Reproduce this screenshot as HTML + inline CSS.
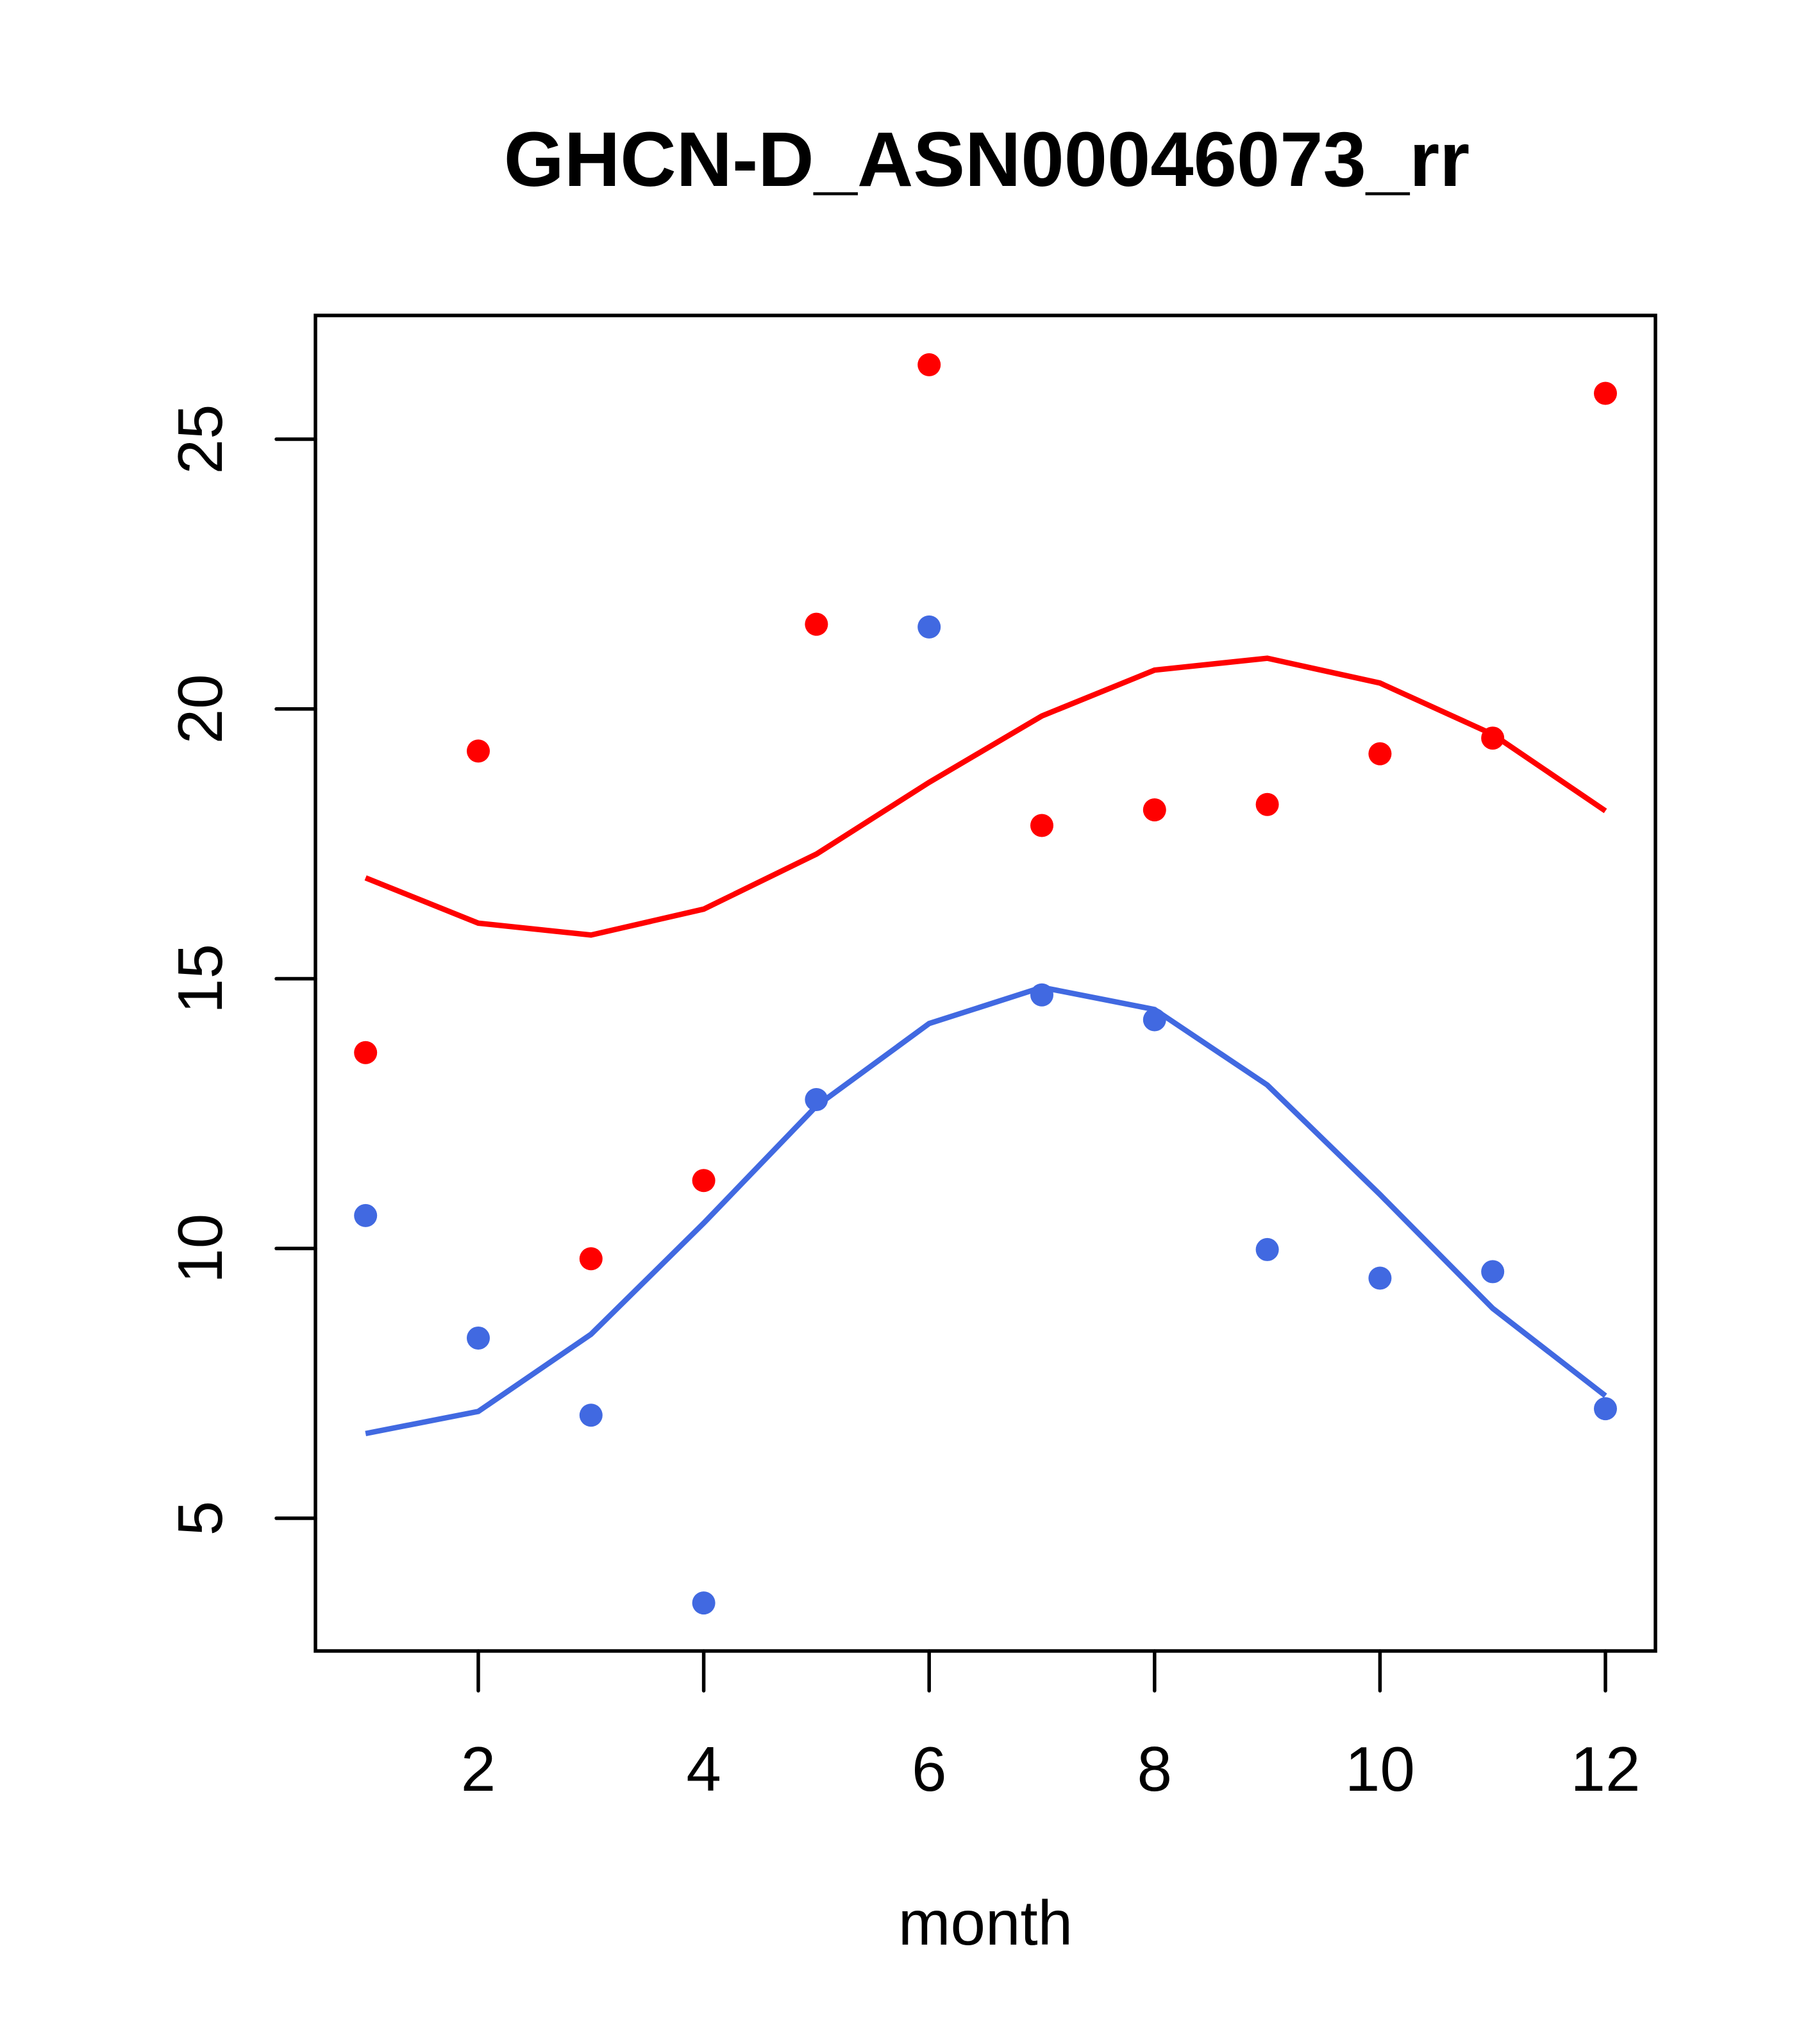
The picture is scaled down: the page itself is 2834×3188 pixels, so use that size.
<!DOCTYPE html>
<html><head><meta charset="utf-8"><style>
html,body{margin:0;padding:0;background:#fff}
svg{display:block}
text{font-family:"Liberation Sans",Arial,sans-serif;fill:#000}
</style></head><body>
<svg id="chart" width="2834" height="3188" viewBox="0 0 2834 3188" xmlns="http://www.w3.org/2000/svg">
<text x="1539" y="290" text-anchor="middle" font-size="121" font-weight="bold">GHCN-D_ASN00046073_rr</text>
<rect x="492" y="492" width="2090" height="2083" fill="none" stroke="#000" stroke-width="5.5"/>
<g id="axes"></g>
<g id="series"></g>
<text x="1537" y="3033" text-anchor="middle" font-size="98">month</text>
</svg>
<script>
const months = [1,2,3,4,5,6,7,8,9,10,11,12];
const redPoints = [13.63,19.22,9.81,11.26,21.57,26.38,17.84,18.13,18.23,19.17,19.46,25.85];
const redLine = [16.87,16.03,15.81,16.29,17.31,18.64,19.87,20.72,20.94,20.48,19.53,18.11];
const bluePoints = [10.61,8.34,6.91,3.43,12.76,21.52,14.70,14.24,9.98,9.45,9.57,7.03];
const blueLine = [6.57,6.98,8.41,10.47,12.64,14.17,14.84,14.43,13.03,11.00,8.89,7.27];
const xTicks = [2,4,6,8,10,12];
const yTicks = [5,10,15,20,25];

const NS="http://www.w3.org/2000/svg";
function xs(m){return 746+(m-2)*175.8;}
function ys(v){return 2368-(v-5)*84.15;}
function mk(tag,attrs,parent){const e=document.createElementNS(NS,tag);for(const k in attrs)e.setAttribute(k,attrs[k]);parent.appendChild(e);return e;}
const axes=document.getElementById('axes');
const series=document.getElementById('series');

xTicks.forEach(t=>{
  const l=mk('line',{x1:xs(t),x2:xs(t),y1:2575,y2:2637,stroke:'#000','stroke-width':5.5,'stroke-linecap':'round'},axes);
  
  
  const tx=mk('text',{x:xs(t),y:2793,'text-anchor':'middle','font-size':98},axes);
  tx.textContent=t;
  
  
});
yTicks.forEach(t=>{
  const l=mk('line',{x1:431,x2:492,y1:ys(t),y2:ys(t),stroke:'#000','stroke-width':5.5,'stroke-linecap':'round'},axes);
  
  
  const tx=mk('text',{x:0,y:0,'text-anchor':'middle','font-size':98,transform:'translate(346,'+ys(t)+') rotate(-90)'},axes);
  tx.textContent=t;
  
  
});

function drawLine(vals,color,name){
  const p=mk('polyline',{points:vals.map((v,i)=>xs(months[i])+','+ys(v)).join(' '),fill:'none',stroke:color,'stroke-width':8.5},series);
  
  
}
function drawPts(vals,color,name){
  vals.forEach((v,i)=>{
    const c=mk('circle',{cx:xs(months[i]),cy:ys(v),r:18,fill:color},series);
    
    
  });
}
drawLine(redLine,'#FF0000','red-line');
drawLine(blueLine,'#4169E1','blue-line');
drawPts(redPoints,'#FF0000','red-point');
drawPts(bluePoints,'#4169E1','blue-point');
</script>
</body></html>
